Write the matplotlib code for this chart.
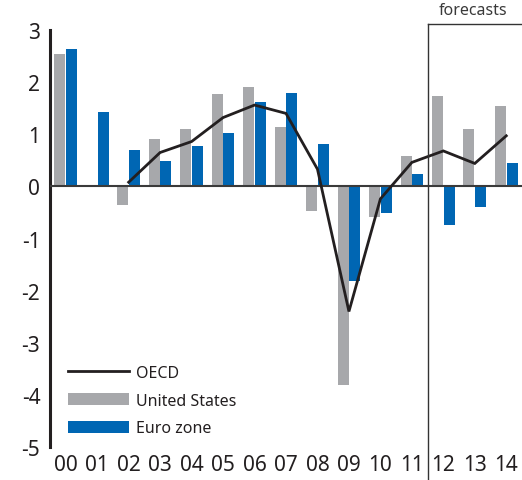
import matplotlib
matplotlib.use("Agg")
import matplotlib.pyplot as plt
import matplotlib.transforms as mtransforms
from matplotlib.lines import Line2D
from matplotlib.patches import Patch
import numpy as np

plt.rcParams['font.family'] = ['Noto Sans', 'DejaVu Sans']

years = ["00", "01", "02", "03", "04", "05", "06", "07", "08", "09", "10", "11", "12", "13", "14"]
us = [2.54, 0.02, -0.35, 0.90, 1.10, 1.77, 1.90, 1.13, -0.47, -3.81, -0.59, 0.58, 1.73, 1.10, 1.54]
euro = [2.63, 1.42, 0.69, 0.48, 0.77, 1.02, 1.62, 1.79, 0.81, -1.81, -0.51, 0.23, -0.75, -0.40, 0.44]
oecd_years = ["02", "03", "04", "05", "06", "07", "08", "09", "10", "11", "12", "13", "14"]
oecd = [0.08, 0.65, 0.86, 1.32, 1.56, 1.40, 0.33, -2.40, -0.24, 0.46, 0.68, 0.44, 0.97]
yticks = [3, 2, 1, 0, -1, -2, -3, -4, -5]

GRAY = "#a7a8ab"
BLUE = "#0066b3"
DARK = "#231f20"

fig = plt.figure(figsize=(5.22, 4.81), dpi=100)
ax = fig.add_axes([50/522, 33/481, 472/522, 417/481])

x = np.arange(len(years))
w = 0.35
ax.bar(x - 0.185, us, width=w, color=GRAY, zorder=2)
ax.bar(x + 0.185, euro, width=w, color=BLUE, zorder=2)

ox = [years.index(y) for y in oecd_years]
ax.plot(ox, oecd, color=DARK, lw=2.0, zorder=4, solid_joinstyle='miter')

ax.axhline(0, color="#3a3a3a", lw=1.5, zorder=3)

ax.set_xlim(-0.5, 14.5)
ax.set_ylim(-5, 3)
ax.set_xticks(x)
ax.set_xticklabels(years)
ax.set_yticks(yticks)
ax.set_yticklabels([str(v) for v in yticks])
ax.tick_params(axis='both', length=0, labelsize=15, colors=DARK)
ax.tick_params(axis='y', pad=7)
ax.tick_params(axis='x', pad=5)

for s in ['top', 'right', 'bottom']:
    ax.spines[s].set_visible(False)
ax.spines['left'].set_linewidth(2.2)
ax.spines['left'].set_color(DARK)

# forecasts box
trans = mtransforms.blended_transform_factory(ax.transData, ax.transAxes)
ax.plot([11.5, 11.5], [-0.085, 1.0144], transform=trans, color="#333333", lw=1.0, clip_on=False, zorder=5)
ax.plot([11.5, 14.6], [1.0144, 1.0144], transform=trans, color="#333333", lw=1.0, clip_on=False, zorder=5)
ax.text(12.95, 1.047, "forecasts", transform=trans, ha='center', va='center', fontsize=11.5, color="#3a3a3a")

handles = [Line2D([0], [0], color=DARK, lw=2.0),
           Patch(facecolor=GRAY, edgecolor='none'),
           Patch(facecolor=BLUE, edgecolor='none')]
labels = ["OECD", "United States", "Euro zone"]
leg = ax.legend(handles, labels, loc='lower left', bbox_to_anchor=(0.012, -0.005),
                frameon=False, fontsize=11.5, handlelength=3.8, handleheight=0.8,
                handletextpad=0.4, labelspacing=0.72, borderpad=0.3)
for t in leg.get_texts():
    t.set_color(DARK)

fig.savefig("out.png", dpi=100)
